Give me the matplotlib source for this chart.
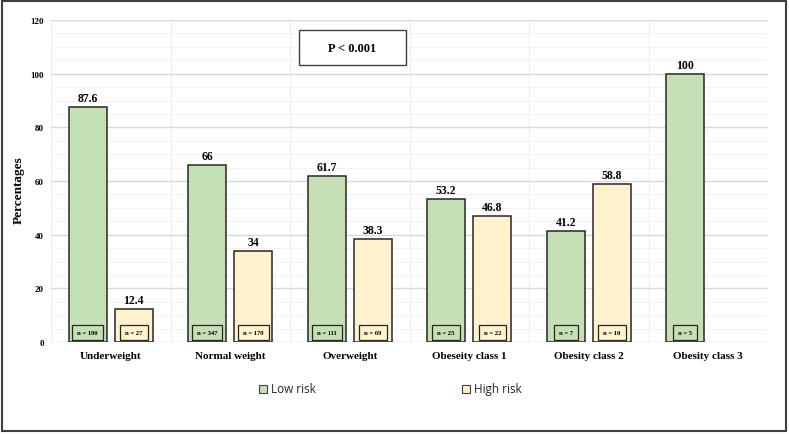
import matplotlib
matplotlib.use("Agg")
import matplotlib.pyplot as plt
from matplotlib.patches import Rectangle
from matplotlib.ticker import MultipleLocator
import numpy as np

categories = ["Underweight", "Normal weight", "Overweight", "Obeseity class 1", "Obesity class 2", "Obesity class 3"]
low_risk = [87.6, 66, 61.7, 53.2, 41.2, 100]
high_risk = [12.4, 34, 38.3, 46.8, 58.8, None]
low_n = [190, 347, 111, 25, 7, 5]
high_n = [27, 179, 69, 22, 10, None]
yticks = [0, 20, 40, 60, 80, 100, 120]

green = "#c5e0b4"
yellow = "#fff2cc"
edge = "#262626"
serif = ["Liberation Serif", "DejaVu Serif"]

fig = plt.figure(figsize=(7.89, 4.35), dpi=100)
ax = fig.add_axes([51/789, 1 - 343/435, (768-51)/789, (343-21)/435])

x = np.arange(len(categories))
w = 0.318
off = 0.193

for i in range(len(categories)):
    ax.bar(x[i] - off, low_risk[i], width=w, color=green, edgecolor=edge, linewidth=1.1, zorder=3)
    ax.text(x[i] - off, low_risk[i] + 1.1, f"{low_risk[i]:g}", ha="center", va="bottom",
            fontsize=8.5, fontweight="bold", family=serif, zorder=4)
    ax.text(x[i] - off, 3.6, f"n = {low_n[i]}", ha="center", va="center", fontsize=4.8,
            fontweight="bold", family=serif, zorder=5,
            bbox=dict(boxstyle="square,pad=0.75", facecolor=green, edgecolor=edge, linewidth=0.9))
    if high_risk[i] is not None:
        ax.bar(x[i] + off, high_risk[i], width=w, color=yellow, edgecolor=edge, linewidth=1.1, zorder=3)
        ax.text(x[i] + off, high_risk[i] + 1.1, f"{high_risk[i]:g}", ha="center", va="bottom",
                fontsize=8.5, fontweight="bold", family=serif, zorder=4)
        ax.text(x[i] + off, 3.4, f"n = {high_n[i]}", ha="center", va="center", fontsize=4.8,
                fontweight="bold", family=serif, zorder=5,
                bbox=dict(boxstyle="square,pad=0.75", facecolor=yellow, edgecolor=edge, linewidth=0.9))

ax.set_xlim(-0.5, len(categories) - 0.5)
ax.set_ylim(0, 120)
ax.set_yticks(yticks)
ax.yaxis.set_minor_locator(MultipleLocator(5))
ax.set_xticks(x)
ax.set_xticklabels(categories, fontsize=8, fontweight="bold", family=serif)
for lab in ax.get_yticklabels():
    lab.set_fontsize(6.5)
    lab.set_fontweight("bold")
    lab.set_family(serif)
ax.tick_params(axis="both", length=0)
ax.tick_params(axis="x", pad=6.5)
ax.tick_params(axis="y", pad=5)
ax.tick_params(which="minor", length=0)
ax.grid(axis="y", which="major", color="#d9d9d9", linewidth=1.0, zorder=0)
ax.grid(axis="y", which="minor", color="#f2f2f2", linewidth=0.7, zorder=0)
for b in np.arange(-0.5, len(categories) + 0.5, 1.0):
    ax.axvline(b, color="#ededed", linewidth=0.8, zorder=0)
for s in ax.spines.values():
    s.set_visible(False)

ax.set_ylabel("Percentages", fontsize=9.5, fontweight="bold", family=serif, va="center")
ax.yaxis.set_label_coords(-0.045, 0.475)

# P-value box
ax.add_patch(Rectangle((1.575, 103.2), 0.895, 13.1, facecolor="white", edgecolor="#404040",
                       linewidth=1.0, zorder=4))
ax.text(1.575 + 0.895/2, 103.2 + 13.1/2, "P < 0.001", ha="center", va="center",
        fontsize=9, fontweight="bold", family=serif, zorder=5)

# Legend
leg_font = ["Open Sans", "DejaVu Sans"]
for (px, label, col) in [(263, "Low risk", green), (466, "High risk", yellow)]:
    fig.patches.append(Rectangle((px/789 - 4/789, 1 - 394/435), 8/789, 8/435, transform=fig.transFigure,
                                 facecolor=col, edgecolor="#404040", linewidth=0.8))
    fig.text((px + 8)/789, 1 - 390/435, label, ha="left", va="center", fontsize=8.5, family=leg_font,
             color="#262626")

# Outer frame
fig.patches.append(Rectangle((2/789, 1 - 432/435), 784/789, 430/435, transform=fig.transFigure,
                             facecolor="none", edgecolor="#404040", linewidth=1.5))

fig.savefig("out.png", dpi=100)
